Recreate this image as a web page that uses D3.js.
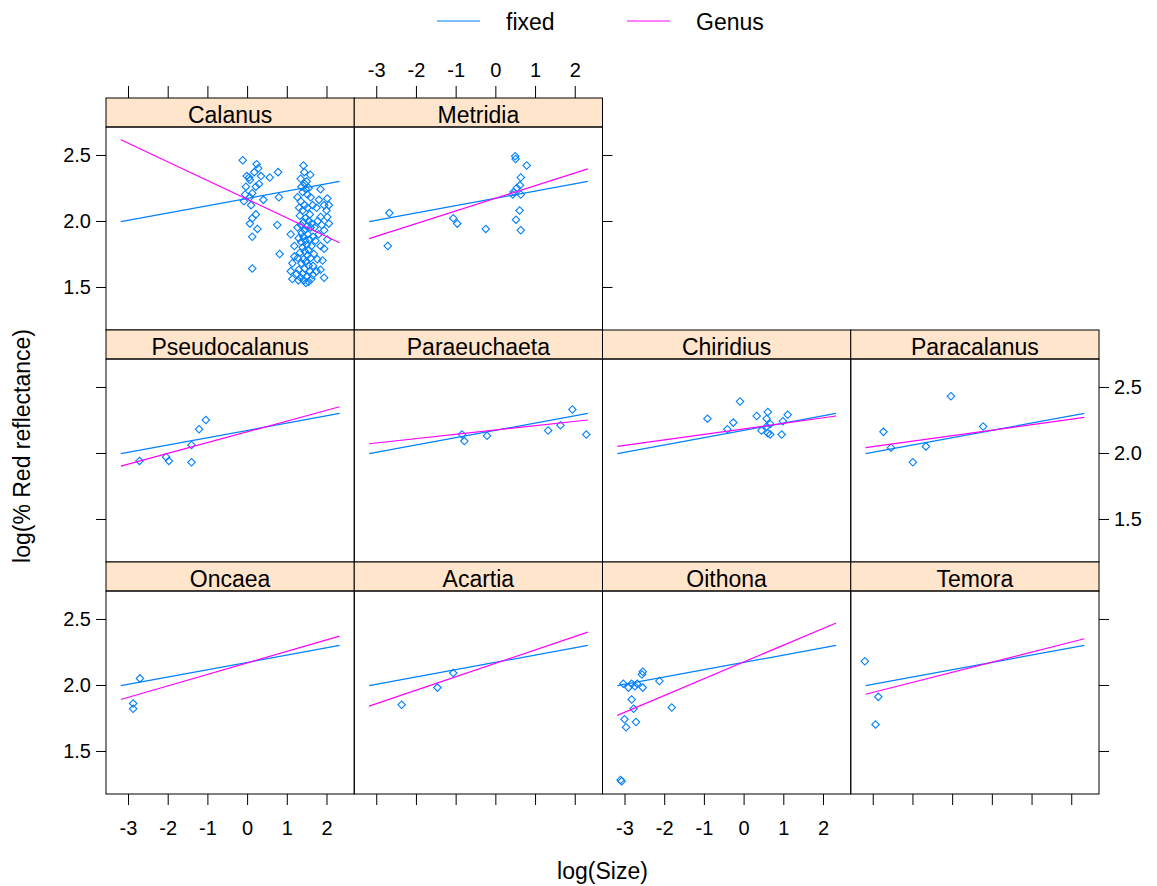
<!DOCTYPE html>
<html>
<head>
<meta charset="utf-8">
<script src="https://cdn.jsdelivr.net/npm/d3@7"></script>
<style>
  body { margin: 0; background: #fff; }
  text { font-family: "Liberation Sans", Arial, sans-serif; fill: #000; }
</style>
</head>
<body>
<script>
var width = 1157, height = 886;

// genera in panel order (lattice fills bottom-up, drawn top-down here)
var genera = ["Calanus", "Metridia", "Pseudocalanus", "Paraeuchaeta", "Chiridius",
              "Paracalanus", "Oncaea", "Acartia", "Oithona", "Temora"];
var panelRow = [0, 0, 1, 1, 1, 1, 2, 2, 2, 2];
var panelCol = [0, 1, 0, 1, 2, 3, 0, 1, 2, 3];

var xTicks = [-3, -2, -1, 0, 1, 2];
var xTickLabels = ["-3", "-2", "-1", "0", "1", "2"];
var yTicks = [1.5, 2.0, 2.5];
var yTickLabels = ["1.5", "2.0", "2.5"];

// fitted lines: [x, y] at the two ends
var fixedLine = [[-3.18, 1.995], [2.33, 2.30]];
var genusStart = [2.616, 1.866, 1.90, 2.07, 2.05, 2.04, 1.89, 1.84, 1.77, 1.93];
var genusEnd   = [1.835, 2.395, 2.35, 2.25, 2.28, 2.27, 2.37, 2.40, 2.47, 2.35];
var lineX = [-3.18, 2.33];

// observations (log size, log % red reflectance)
var calanusPts = [
  [-0.11,2.46],[0.24,2.43],[0.28,2.40],[0.18,2.37],[-0.01,2.34],[0.07,2.31],[0.35,2.34],
  [0.57,2.33],[0.78,2.37],[-0.03,2.26],[0.22,2.26],[0.13,2.21],[-0.08,2.15],[0.07,2.18],
  [0.41,2.16],[0.80,2.18],[0.22,2.05],[0.13,2.02],[0.07,1.98],[0.26,1.94],[0.13,1.88],
  [0.76,1.97],[0.82,1.75],[0.13,1.64],[1.10,1.90],[0.05,2.33],[0.30,2.28],[-0.05,2.20],
  [0.10,2.12],
  [1.42,2.42],[1.44,2.37],[1.59,2.35],[1.37,2.26],[1.48,2.24],[1.85,2.24],[2.02,2.17],
  [1.94,2.12],[2.06,2.12],[1.81,2.16],[1.27,2.18],[1.52,2.20],
  [1.85,2.03],[2.02,2.03],[2.06,1.98],[1.94,1.93],[2.02,1.86],[1.85,1.81],[1.94,1.79],
  [1.77,1.71],[1.94,1.57],[1.85,1.63],[1.65,1.59],[1.48,1.53],[1.29,1.55],[1.14,1.56],
  [1.10,1.62],[1.19,1.81],[1.19,1.73],[1.14,1.68],
  [1.75,2.10],[1.70,1.95],[1.80,1.90],[1.72,1.85],[1.90,1.70],[1.68,1.75],[2.00,2.08],
  [1.78,2.00],[1.88,1.97],[1.66,1.66],[1.75,1.62],
  [1.35,2.32],[1.50,2.30],[1.45,2.28],[1.40,2.22],[1.55,2.25],[1.60,2.18],[1.35,2.15],
  [1.45,2.12],[1.52,2.10],[1.40,2.08],[1.58,2.05],[1.33,2.04],[1.47,2.02],[1.55,2.00],
  [1.42,1.99],[1.36,1.97],[1.50,1.96],[1.60,1.95],[1.45,1.93],[1.38,1.91],[1.53,1.90],
  [1.42,1.88],[1.30,1.87],[1.57,1.86],[1.47,1.85],[1.36,1.84],[1.50,1.82],[1.62,1.81],
  [1.40,1.80],[1.55,1.78],[1.45,1.77],[1.33,1.76],[1.52,1.74],[1.60,1.72],[1.42,1.71],
  [1.48,1.69],[1.37,1.68],[1.55,1.66],[1.45,1.64],[1.30,1.63],[1.58,1.62],[1.40,1.60],
  [1.50,1.58],[1.35,1.57],[1.62,1.56],[1.43,1.55],[1.55,1.54],[1.25,1.60],[1.28,1.72],
  [1.27,1.95],[1.31,2.10],[1.65,2.12],[1.63,1.98],[1.66,1.88]
];
var metridiaPts = [[-2.67,2.06],[-2.71,1.81],[-1.06,2.02],[-0.96,1.98],[-0.24,1.94],
  [0.50,2.49],[0.51,2.47],[0.79,2.42],[0.64,2.33],[0.62,2.27],[0.54,2.25],[0.46,2.22],
  [0.44,2.20],[0.64,2.20],[0.61,2.08],[0.52,2.01],[0.64,1.93]];
var pseudocalanusPts = [[-2.71,1.94],[-2.04,1.97],[-1.97,1.94],[-1.40,1.93],[-1.40,2.06],
  [-1.21,2.18],[-1.04,2.25]];
var paraeuchaetaPts = [[-0.84,2.14],[-0.78,2.09],[-0.21,2.13],[1.33,2.17],[1.64,2.21],
  [1.94,2.33],[2.29,2.14]];
var chiridiusPts = [[-0.91,2.26],[-0.09,2.39],[-0.26,2.23],[-0.41,2.18],[0.33,2.28],
  [0.61,2.31],[0.58,2.26],[0.67,2.22],[0.45,2.17],[0.61,2.15],[0.67,2.14],[0.96,2.14],
  [0.99,2.24],[1.11,2.29],[0.58,2.20]];
var paracalanusPts = [[-2.73,2.16],[-2.54,2.04],[-1.99,1.93],[-1.66,2.05],[-1.03,2.43],
  [-0.22,2.20]];
var oncaeaPts = [[-2.70,2.05],[-2.87,1.86],[-2.87,1.82]];
var acartiaPts = [[-2.36,1.85],[-1.46,1.98],[-1.06,2.09]];
var oithonaPts = [[-3.10,1.28],[-3.07,1.27],[-3.03,2.01],[-2.90,1.98],[-2.82,2.01],
  [-2.74,1.99],[-2.68,2.01],[-2.56,2.08],[-2.54,2.10],[-2.54,1.98],[-2.12,2.03],
  [-2.82,1.89],[-2.77,1.82],[-3.00,1.74],[-2.96,1.68],[-2.71,1.72],[-1.81,1.83]];
var temoraPts = [[-3.20,2.18],[-2.86,1.91],[-2.93,1.70]];

var pointSets = [calanusPts, metridiaPts, pseudocalanusPts, paraeuchaetaPts, chiridiusPts,
                 paracalanusPts, oncaeaPts, acartiaPts, oithonaPts, temoraPts];

var fixedCol = "#0080ff", genusCol = "#ff00ff", stripCol = "#ffe5cc";

// layout
var left = 106, panelW = 248.25, rowTop = [98, 330, 562], stripH = 29, panelH = 203;

var x = d3.scaleLinear().domain([-3.554, 2.699]).range([0, panelW]);
var y = d3.scaleLinear().domain([1.174, 2.712]).range([panelH, 0]);
var line = d3.line().x(function(d) { return x(d[0]); }).y(function(d) { return y(d[1]); });

var svg = d3.select("body").append("svg")
    .attr("width", width)
    .attr("height", height);

genera.forEach(function(name, i) {
  var r = panelRow[i], c = panelCol[i];
  var g = svg.append("g")
      .attr("transform", "translate(" + (left + c * panelW) + "," + (rowTop[r] + stripH) + ")");

  // strip
  g.append("rect")
      .attr("x", 0).attr("y", -stripH)
      .attr("width", panelW).attr("height", stripH)
      .attr("fill", stripCol).attr("stroke", "#000").attr("stroke-width", 1);
  g.append("text")
      .attr("x", panelW / 2).attr("y", -4)
      .attr("text-anchor", "middle")
      .style("font-size", "23px")
      .text(name);

  // panel box
  g.append("rect")
      .attr("width", panelW).attr("height", panelH)
      .attr("fill", "none").attr("stroke", "#000").attr("stroke-width", 1);

  // points
  g.selectAll(".pt")
    .data(pointSets[i])
    .enter().append("path")
      .attr("class", "pt")
      .attr("d", d3.symbol().type(d3.symbolSquare).size(28))
      .attr("transform", function(d) { return "translate(" + x(d[0]) + "," + y(d[1]) + ") rotate(45)"; })
      .attr("fill", "none")
      .attr("stroke", fixedCol)
      .attr("stroke-width", 1.1);

  // fitted lines
  g.append("path")
      .attr("d", line(fixedLine))
      .attr("fill", "none").attr("stroke", fixedCol).attr("stroke-width", 1.2);
  g.append("path")
      .attr("d", line([[lineX[0], genusStart[i]], [lineX[1], genusEnd[i]]]))
      .attr("fill", "none").attr("stroke", genusCol).attr("stroke-width", 1.2);

  // axes, alternating labels as lattice does
  function addAxis(axis, tx, ty, labelled) {
    if (!labelled) axis.tickFormat("");
    var a = g.append("g").attr("transform", "translate(" + tx + "," + ty + ")").call(axis);
    a.select(".domain").remove();
    a.selectAll("line").attr("stroke", "#000");
    a.selectAll("text").style("font-size", "20px").style("font-family", '"Liberation Sans", Arial, sans-serif');
  }
  var yLab = function(d, k) { return yTickLabels[k]; };
  var xLab = function(d, k) { return xTickLabels[k]; };

  if (c === 0) {
    addAxis(d3.axisLeft(y).tickValues(yTicks).tickFormat(yLab).tickSize(10).tickPadding(5).tickSizeOuter(0),
            0, 0, r !== 1);
  }
  var rightmost = (r === 0 && c === 1) || (r > 0 && c === 3);
  if (rightmost) {
    addAxis(d3.axisRight(y).tickValues(yTicks).tickFormat(yLab).tickSize(10).tickPadding(5).tickSizeOuter(0),
            panelW, 0, r === 1);
  }
  if (r === 2) {
    addAxis(d3.axisBottom(x).tickValues(xTicks).tickFormat(xLab).tickSize(11).tickPadding(16).tickSizeOuter(0),
            0, panelH, c % 2 === 0);
  }
  if (r === 0) {
    addAxis(d3.axisTop(x).tickValues(xTicks).tickFormat(xLab).tickSize(12).tickPadding(9).tickSizeOuter(0),
            0, -stripH, c === 1);
  }
});

// axis titles
svg.append("text")
    .attr("x", left + 2 * panelW).attr("y", 879)
    .attr("text-anchor", "middle")
    .style("font-size", "23px")
    .text("log(Size)");
svg.append("text")
    .attr("transform", "translate(30," + (rowTop[0] + 348) + ") rotate(-90)")
    .attr("text-anchor", "middle")
    .style("font-size", "23px")
    .text("log(% Red reflectance)");

// legend
var legendNames = ["fixed", "Genus"];
var legendCols = [fixedCol, genusCol];
var legendX = [437, 627];
var lg = svg.selectAll(".leg").data(legendNames).enter().append("g")
    .attr("class", "leg")
    .attr("transform", function(d, k) { return "translate(" + legendX[k] + ",21)"; });
lg.append("line")
    .attr("x1", 0).attr("x2", 43)
    .attr("stroke", function(d, k) { return legendCols[k]; })
    .attr("stroke-width", 1.2);
lg.append("text")
    .attr("x", 69).attr("y", 9)
    .style("font-size", "23px")
    .text(function(d) { return d; });
</script>
</body>
</html>
